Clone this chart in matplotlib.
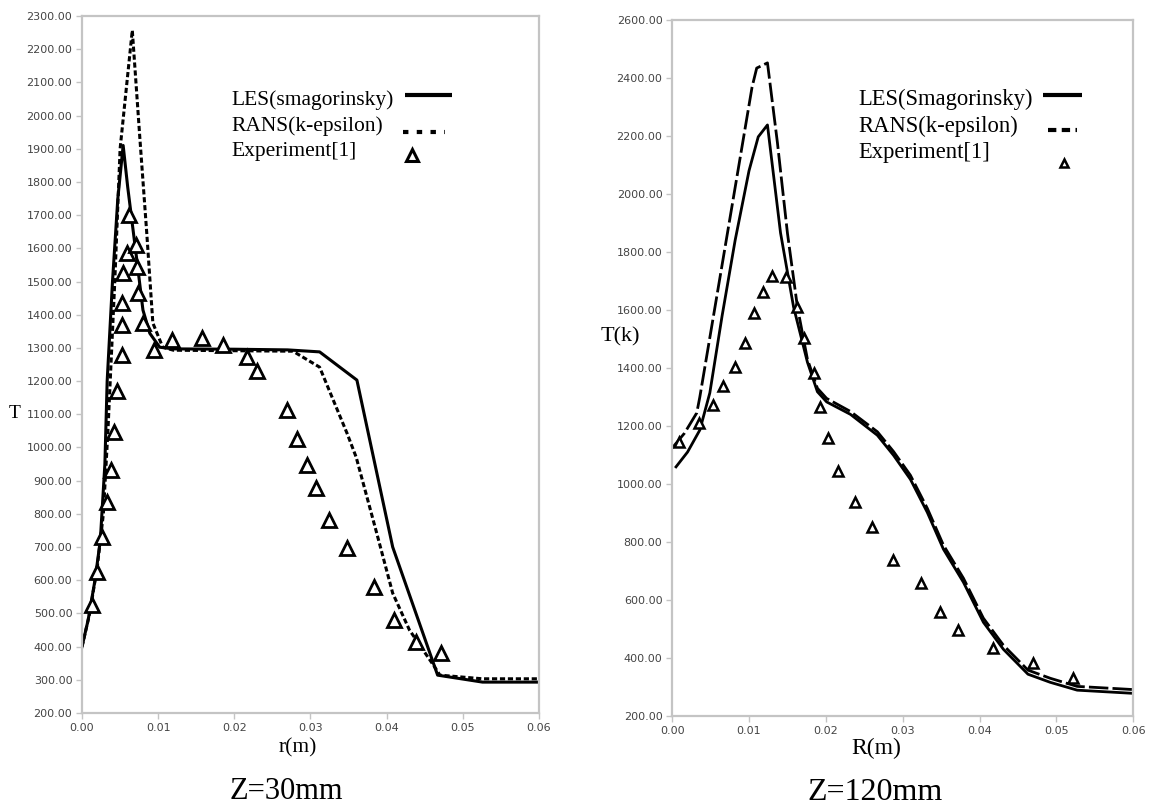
import matplotlib.pyplot as plt
import numpy as np

# ---- Z = 30 mm (left panel) ----
r_les = [0.0, 0.0008, 0.0017, 0.0024, 0.0030, 0.0033, 0.0040, 0.0047, 0.0054, 0.0060,
         0.0072, 0.0080, 0.0089, 0.0102, 0.0120, 0.0200, 0.0270, 0.0312, 0.0361, 0.0408,
         0.0467, 0.0526, 0.0600]
T_les = [400, 480, 600, 720, 950, 1200, 1500, 1750, 1910, 1784,
         1564, 1414, 1344, 1302, 1297, 1296, 1294, 1288, 1203, 700,
         314, 293, 293]

r_rans = [0.0, 0.0010, 0.0020, 0.0028, 0.0034, 0.0037, 0.0043, 0.0050, 0.0066, 0.0076,
          0.0085, 0.0093, 0.0106, 0.0120, 0.0277, 0.0312, 0.0348, 0.0360, 0.0387, 0.0408,
          0.0430, 0.0463, 0.0470, 0.0526, 0.0600]
T_rans = [400, 500, 640, 800, 1050, 1200, 1500, 1900, 2257, 1930,
          1646, 1375, 1302, 1293, 1290, 1242, 1043, 971, 742, 561,
          450, 339, 314, 303, 303]

r_exp = [0.0013, 0.0020, 0.0026, 0.0033, 0.0038, 0.0042, 0.0046, 0.0052, 0.0052, 0.0052,
         0.0054, 0.0059, 0.0062, 0.0071, 0.0072, 0.0074, 0.0080, 0.0094, 0.0118, 0.0157,
         0.0185, 0.0216, 0.0230, 0.0269, 0.0282, 0.0295, 0.0307, 0.0325, 0.0348, 0.0383,
         0.0410, 0.0439, 0.0472]
T_exp = [525, 625, 730, 836, 932, 1046, 1170, 1278, 1369, 1435,
         1525, 1586, 1700, 1610, 1543, 1465, 1375, 1293, 1323, 1329,
         1308, 1272, 1230, 1113, 1025, 947, 878, 781, 697, 580,
         480, 414, 381]

# ---- Z = 120 mm (right panel) ----
R_les = [0.0005, 0.0020, 0.0036, 0.0049, 0.0065, 0.0082, 0.0100, 0.0112, 0.0124, 0.0141,
         0.0158, 0.0176, 0.0189, 0.0201, 0.0232, 0.0267, 0.0288, 0.0310, 0.0332, 0.0353,
         0.0379, 0.0405, 0.0431, 0.0463, 0.0492, 0.0527, 0.0600]
T2_les = [1059, 1110, 1186, 1314, 1580, 1841, 2080, 2197, 2238, 1866,
          1610, 1420, 1318, 1283, 1240, 1168, 1099, 1016, 902, 775,
          661, 523, 430, 344, 316, 289, 278]

R_rans = [0.0, 0.0016, 0.0032, 0.0036, 0.0072, 0.0104, 0.0110, 0.0124, 0.0137, 0.0150,
          0.0163, 0.0176, 0.0189, 0.0201, 0.0232, 0.0267, 0.0288, 0.0310, 0.0332, 0.0353,
          0.0379, 0.0405, 0.0431, 0.0463, 0.0492, 0.0527, 0.0600]
T2_rans = [1124, 1175, 1245, 1300, 1866, 2369, 2434, 2452, 2176, 1865,
           1610, 1430, 1330, 1295, 1250, 1180, 1112, 1030, 916, 789,
           675, 537, 444, 358, 330, 302, 291]

R_exp = [0.0009, 0.0035, 0.0053, 0.0066, 0.0082, 0.0095, 0.0107, 0.0118, 0.0130, 0.0148,
         0.0163, 0.0172, 0.0184, 0.0193, 0.0203, 0.0216, 0.0238, 0.0260, 0.0288, 0.0324,
         0.0348, 0.0372, 0.0418, 0.0470, 0.0521]
T2_exp = [1145, 1210, 1272, 1338, 1403, 1486, 1590, 1662, 1717, 1714,
          1610, 1503, 1383, 1266, 1159, 1045, 938, 852, 738, 659,
          559, 497, 434, 383, 331]

left_labels = ['LES(smagorinsky)', 'RANS(k-epsilon)', 'Experiment[1]']
right_labels = ['LES(Smagorinsky)', 'RANS(k-epsilon)', 'Experiment[1]']

serif = 'Liberation Serif'
tick_col = '#444444'
spine_col = '#c4c4c4'

fig = plt.figure(figsize=(11.49, 8.08), dpi=100)
ax1 = fig.add_axes([0.0714, 0.1176, 0.3976, 0.8626])
ax2 = fig.add_axes([0.585, 0.1139, 0.4013, 0.8614])


def style_axes(ax, yticks):
    for s in ax.spines.values():
        s.set_color(spine_col)
        s.set_linewidth(1.6)
    xt = np.arange(0, 0.061, 0.01)
    ax.set_xlim(0, 0.06)
    ax.set_xticks(xt)
    ax.set_yticks(yticks)
    ax.set_xticklabels(['%.2f' % v for v in xt])
    ax.set_yticklabels(['%.2f' % v for v in yticks])
    ax.tick_params(axis='both', direction='out', length=4, width=1, color=spine_col,
                   labelsize=8, labelcolor=tick_col, pad=3)


def text_legend(ax, labels, tx, ty, size, line_pos, dot_pos, dot_dash, tri_pos, tri_ms, tri_mew):
    # labels left aligned, samples in a column on the right (like the original figure)
    for lab, y in zip(labels, ty):
        ax.text(tx, y, lab, transform=ax.transAxes, family=serif, fontsize=size,
                ha='left', va='center')
    tr = ax.transAxes
    (x0, x1, y) = line_pos
    ax.plot([x0, x1], [y, y], transform=tr, color='black', lw=3, solid_capstyle='butt')
    (x0, x1, y) = dot_pos
    ax.plot([x0, x1], [y, y], transform=tr, color='black', lw=3, dashes=dot_dash,
            dash_capstyle='butt')
    (x, y) = tri_pos
    ax.plot([x], [y], transform=tr, ls='none', marker='^', ms=tri_ms, mfc='white',
            mec='black', mew=tri_mew)


# left panel
ax1.plot(r_les, T_les, color='black', lw=2.2)
ax1.plot(r_rans, T_rans, color='black', lw=2.2, dashes=(1.7, 0.9))
ax1.plot(r_exp, T_exp, ls='none', marker='^', ms=10, mfc='white', mec='black', mew=2)
ax1.set_ylim(200, 2300)
style_axes(ax1, np.arange(200, 2301, 100))
text_legend(ax1, left_labels, 0.328, [0.8795, 0.842, 0.806], 15.5,
            (0.707, 0.810, 0.887), (0.702, 0.794, 0.834), (1.3, 2.0),
            (0.722, 0.800), 8, 2.2)
ax1.set_ylabel('T', family=serif, fontsize=14, rotation=0, va='center', ha='center')
ax1.yaxis.set_label_coords(-0.147, 0.43)
ax1.set_xlabel('r(m)', family=serif, fontsize=15.5, va='center', ha='center')
ax1.xaxis.set_label_coords(0.4726, -0.050)
fig.text(0.249, 0.021, 'Z=30mm', family=serif, fontsize=22, ha='center', va='center')

# right panel
ax2.plot(R_les, T2_les, color='black', lw=2.0)
ax2.plot(R_rans, T2_rans, color='black', lw=2.0, dashes=(7, 1.5))
ax2.plot(R_exp, T2_exp, ls='none', marker='^', ms=7, mfc='white', mec='black', mew=1.8)
ax2.set_ylim(200, 2600)
style_axes(ax2, np.arange(200, 2601, 200))
text_legend(ax2, right_labels, 0.4035, [0.8865, 0.8477, 0.8089], 16.3,
            (0.805, 0.889, 0.892), (0.816, 0.879, 0.842), (2.0, 1.3),
            (0.850, 0.795), 6, 1.8)
ax2.set_ylabel('T(k)', family=serif, fontsize=16, rotation=0, va='center', ha='center')
ax2.yaxis.set_label_coords(-0.113, 0.5445)
ax2.set_xlabel('R(m)', family=serif, fontsize=17, va='center', ha='center')
ax2.xaxis.set_label_coords(0.4425, -0.046)
fig.text(0.7616, 0.019, 'Z=120mm', family=serif, fontsize=23, ha='center', va='center')

fig.savefig('out.png', dpi=100)
